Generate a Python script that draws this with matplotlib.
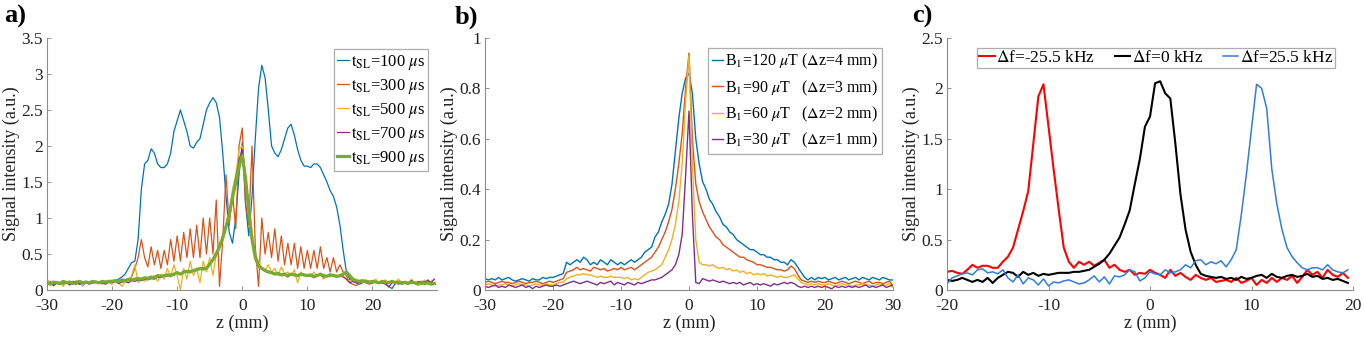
import numpy as np
import matplotlib
matplotlib.use('Agg')
import matplotlib.pyplot as plt
from matplotlib.ticker import FormatStrFormatter

plt.rcParams['font.family'] = ['Liberation Serif', 'DejaVu Serif']
plt.rcParams['mathtext.fontset'] = 'stix'
plt.rcParams['axes.unicode_minus'] = False

# ---------------- panel a: spin-lock duration ----------------
z_a = np.arange(-30, 30, 0.5)
tsl_labels = [r'$\mathrm{t_{SL}}$=100 $\mu$s', r'$\mathrm{t_{SL}}$=300 $\mu$s',
              r'$\mathrm{t_{SL}}$=500 $\mu$s', r'$\mathrm{t_{SL}}$=700 $\mu$s',
              r'$\mathrm{t_{SL}}$=900 $\mu$s']
tsl_100 = [0.08, 0.1, 0.07, 0.1, 0.09, 0.08, 0.11, 0.1, 0.09, 0.08,
           0.1, 0.06, 0.1, 0.09, 0.1, 0.11, 0.1, 0.09, 0.12, 0.11,
           0.12, 0.13, 0.15, 0.18, 0.22, 0.3, 0.38, 0.4, 0.7, 1.4,
           1.75, 1.8, 1.96, 1.9, 1.75, 1.7, 1.7, 1.75, 1.9, 2.2,
           2.35, 2.5, 2.35, 2.2, 2.0, 1.97, 2.05, 2.1, 2.3, 2.5,
           2.6, 2.67, 2.6, 2.4, 1.9, 1.3, 0.8, 0.65, 1.0, 1.6,
           2.05, 1.2, 0.75, 1.3, 2.1, 2.8, 3.12, 2.95, 2.5, 2.0,
           1.9, 1.85, 1.95, 2.1, 2.25, 2.3, 2.15, 1.95, 1.8, 1.72,
           1.72, 1.7, 1.75, 1.75, 1.7, 1.6, 1.5, 1.38, 1.3, 1.15,
           0.9, 0.55, 0.25, 0.15, 0.12, 0.1, 0.08, 0.1, 0.12, 0.1,
           0.1, 0.11, 0.09, 0.1, 0.08, 0.05, 0.02, 0.09, 0.1, 0.08,
           0.1, 0.09, 0.11, 0.1, 0.08, 0.1, 0.12, 0.09, 0.1, 0.08]
tsl_300 = [0.1, 0.12, 0.08, 0.11, 0.1, 0.13, 0.09, 0.1, 0.12, 0.1,
           0.08, 0.11, 0.12, 0.1, 0.09, 0.11, 0.1, 0.12, 0.1, 0.13,
           0.11, 0.12, 0.1, 0.14, 0.12, 0.15, 0.18, 0.3, 0.45, 0.7,
           0.45, 0.32, 0.6, 0.35, 0.55, 0.3, 0.55, 0.35, 0.7, 0.4,
           0.75, 0.4, 0.8, 0.45, 0.85, 0.45, 0.9, 0.45, 1.0, 0.5,
           1.0, 0.5, 1.25, 0.05, 0.7, 1.6, 0.9, 1.35, 0.85, 2.0,
           2.25, 1.2, 0.9, 2.0, 0.6, 0.05, 1.0, 0.5, 0.8, 0.45,
           0.85, 0.4, 0.75, 0.35, 0.65, 0.35, 0.65, 0.3, 0.6, 0.3,
           0.55, 0.3, 0.55, 0.3, 0.6, 0.3, 0.45, 0.25, 0.45, 0.25,
           0.35, 0.25, 0.2, 0.1, 0.08, 0.06, 0.1, 0.12, 0.1, 0.08,
           0.1, 0.12, 0.1, 0.09, 0.11, 0.1, 0.12, 0.1, 0.08, 0.1,
           0.12, 0.1, 0.09, 0.1, 0.11, 0.08, 0.1, 0.12, 0.09, 0.1]
tsl_500 = [0.15, 0.1, 0.08, 0.12, 0.1, 0.05, 0.12, 0.1, 0.08, 0.13,
           0.1, 0.06, 0.12, 0.1, 0.09, 0.12, 0.1, 0.08, 0.12, 0.1,
           0.08, 0.12, 0.1, 0.05, 0.12, 0.1, 0.2, 0.35, 0.1, 0.15,
           0.12, 0.18, 0.15, 0.2, 0.12, 0.22, 0.15, 0.3, 0.18, 0.35,
           0.2, 0.0, 0.3, 0.15, 0.4, 0.2, 0.3, 0.1, 0.4, 0.25,
           0.45, 0.2, 0.5, 0.65, 0.75, 0.9, 1.1, 1.4, 1.6, 1.95,
           2.0, 1.5, 1.2, 0.8, 0.5, 0.4, 0.3, 0.28, 0.35, 0.25,
           0.3, 0.2, 0.32, 0.22, 0.25, 0.2, 0.28, 0.1, 0.25, 0.2,
           0.22, 0.18, 0.25, 0.2, 0.22, 0.15, 0.2, 0.18, 0.22, 0.2,
           0.18, 0.2, 0.15, 0.12, 0.15, 0.12, 0.13, 0.1, 0.14, 0.12,
           0.12, 0.15, 0.1, 0.12, 0.14, 0.1, 0.13, 0.11, 0.15, 0.1,
           0.12, 0.1, 0.15, 0.09, 0.12, 0.1, 0.14, 0.08, 0.12, 0.15]
tsl_700 = [0.08, 0.1, 0.06, 0.1, 0.08, 0.12, 0.1, 0.07, 0.1, 0.12,
           0.08, 0.1, 0.11, 0.08, 0.1, 0.12, 0.09, 0.1, 0.08, 0.11,
           0.1, 0.12, 0.09, 0.11, 0.12, 0.1, 0.13, 0.12, 0.14, 0.13,
           0.15, 0.14, 0.16, 0.15, 0.18, 0.17, 0.2, 0.19, 0.22, 0.2,
           0.25, 0.22, 0.26, 0.24, 0.27, 0.26, 0.3, 0.28, 0.31, 0.3,
           0.37, 0.44, 0.52, 0.62, 0.75, 0.9, 1.08, 1.3, 1.55, 1.8,
           1.95, 1.6, 1.15, 0.72, 0.48, 0.35, 0.3, 0.28, 0.26, 0.25,
           0.23, 0.22, 0.2, 0.21, 0.18, 0.22, 0.2, 0.19, 0.21, 0.2,
           0.19, 0.2, 0.17, 0.2, 0.21, 0.18, 0.2, 0.22, 0.2, 0.18,
           0.2, 0.18, 0.15, 0.1, 0.12, 0.1, 0.11, 0.12, 0.1, 0.11,
           0.1, 0.12, 0.09, 0.11, 0.1, 0.04, 0.1, 0.12, 0.09, 0.1,
           0.11, 0.1, 0.13, 0.1, 0.11, 0.12, 0.1, 0.14, 0.1, 0.15]
tsl_900 = [0.1, 0.08, 0.11, 0.1, 0.09, 0.12, 0.1, 0.11, 0.09, 0.1,
           0.12, 0.1, 0.11, 0.1, 0.12, 0.11, 0.1, 0.12, 0.11, 0.12,
           0.12, 0.13, 0.12, 0.14, 0.13, 0.15, 0.14, 0.15, 0.16, 0.15,
           0.17, 0.16, 0.18, 0.17, 0.2, 0.19, 0.2, 0.21, 0.2, 0.22,
           0.24, 0.22, 0.25, 0.26, 0.25, 0.27, 0.28, 0.3, 0.29, 0.3,
           0.36, 0.42, 0.5, 0.6, 0.72, 0.88, 1.05, 1.28, 1.5, 1.72,
           1.87, 1.55, 1.1, 0.7, 0.45, 0.33, 0.3, 0.27, 0.25, 0.24,
           0.22, 0.23, 0.21, 0.22, 0.2, 0.22, 0.21, 0.2, 0.22, 0.21,
           0.2, 0.21, 0.19, 0.2, 0.22, 0.2, 0.19, 0.21, 0.2, 0.19,
           0.2, 0.22, 0.25, 0.2, 0.15, 0.13, 0.12, 0.13, 0.12, 0.11,
           0.12, 0.11, 0.1, 0.12, 0.11, 0.1, 0.12, 0.1, 0.11, 0.1,
           0.1, 0.09, 0.11, 0.1, 0.08, 0.1, 0.09, 0.1, 0.08, 0.09]

# ---------------- panel b: B1 amplitude ----------------
z_b = np.arange(-30, 30.5, 0.5)
b1_labels = [r'B$_1$=120 $\mu$T ($\Delta$z=4 mm)', r'B$_1$=90 $\mu$T   ($\Delta$z=3 mm)',
             r'B$_1$=60 $\mu$T   ($\Delta$z=2 mm)', r'B$_1$=30 $\mu$T   ($\Delta$z=1 mm)']
b1_120 = [0.045, 0.04, 0.045, 0.04, 0.05, 0.04, 0.045, 0.05, 0.04, 0.035,
          0.04, 0.045, 0.04, 0.035, 0.045, 0.04, 0.04, 0.05, 0.045, 0.05,
          0.05, 0.055, 0.06, 0.065, 0.11, 0.1, 0.11, 0.12, 0.11, 0.13,
          0.12, 0.1, 0.11, 0.1, 0.12, 0.11, 0.1, 0.12, 0.11, 0.1,
          0.11, 0.1, 0.11, 0.12, 0.11, 0.12, 0.13, 0.15, 0.16, 0.17,
          0.21, 0.23, 0.27, 0.3, 0.34, 0.42, 0.55, 0.68, 0.78, 0.84,
          0.86, 0.78, 0.6, 0.5, 0.43, 0.4, 0.36, 0.34, 0.31, 0.29,
          0.26, 0.25, 0.23, 0.22, 0.2, 0.19, 0.18, 0.17, 0.16, 0.16,
          0.15, 0.14, 0.14, 0.13, 0.13, 0.12, 0.12, 0.11, 0.11, 0.1,
          0.12, 0.11, 0.09, 0.07, 0.05, 0.04, 0.05, 0.04, 0.05, 0.045,
          0.05, 0.04, 0.045, 0.05, 0.04, 0.045, 0.05, 0.04, 0.045, 0.05,
          0.04, 0.05, 0.045, 0.04, 0.05, 0.045, 0.04, 0.05, 0.045, 0.04,
          0.04]
b1_90 = [0.03, 0.035, 0.03, 0.025, 0.03, 0.035, 0.03, 0.03, 0.025, 0.03,
         0.035, 0.03, 0.025, 0.03, 0.03, 0.035, 0.03, 0.025, 0.03, 0.035,
         0.03, 0.035, 0.04, 0.045, 0.07, 0.075, 0.08, 0.09, 0.08, 0.085,
         0.08, 0.075, 0.09, 0.085, 0.08, 0.085, 0.075, 0.08, 0.085, 0.08,
         0.09, 0.08, 0.085, 0.09, 0.08, 0.09, 0.1, 0.11, 0.12, 0.13,
         0.15, 0.17, 0.2, 0.23, 0.27, 0.32, 0.4, 0.5, 0.62, 0.8,
         0.94, 0.6, 0.42, 0.35, 0.31, 0.28, 0.25, 0.23, 0.21, 0.2,
         0.18, 0.17, 0.16, 0.15, 0.14, 0.13, 0.13, 0.12, 0.115, 0.11,
         0.1, 0.1, 0.095, 0.09, 0.09, 0.085, 0.08, 0.08, 0.075, 0.08,
         0.095, 0.085, 0.06, 0.04, 0.035, 0.03, 0.035, 0.03, 0.035, 0.03,
         0.03, 0.035, 0.03, 0.025, 0.03, 0.035, 0.03, 0.025, 0.03, 0.035,
         0.03, 0.025, 0.03, 0.035, 0.025, 0.03, 0.03, 0.025, 0.03, 0.035,
         0.015]
b1_60 = [0.02, 0.025, 0.02, 0.015, 0.02, 0.02, 0.025, 0.02, 0.015, 0.02,
         0.025, 0.02, 0.02, 0.015, 0.02, 0.025, 0.02, 0.02, 0.025, 0.02,
         0.02, 0.025, 0.03, 0.03, 0.045, 0.05, 0.055, 0.06, 0.06, 0.065,
         0.06, 0.06, 0.055, 0.05, 0.055, 0.05, 0.05, 0.055, 0.05, 0.05,
         0.05, 0.045, 0.05, 0.04, 0.045, 0.04, 0.05, 0.06, 0.07, 0.075,
         0.08, 0.09, 0.1, 0.13, 0.16, 0.2, 0.26, 0.35, 0.5, 0.75,
         0.93, 0.5, 0.2, 0.11, 0.1, 0.1, 0.095, 0.1, 0.09, 0.085,
         0.09, 0.08, 0.085, 0.075, 0.08, 0.07, 0.075, 0.065, 0.07, 0.06,
         0.065, 0.06, 0.065, 0.055, 0.06, 0.055, 0.05, 0.055, 0.05, 0.05,
         0.055, 0.06, 0.045, 0.03, 0.025, 0.02, 0.025, 0.02, 0.025, 0.02,
         0.02, 0.025, 0.02, 0.015, 0.02, 0.025, 0.02, 0.02, 0.015, 0.02,
         0.02, 0.025, 0.02, 0.02, 0.015, 0.02, 0.025, 0.02, 0.02, 0.025,
         0.01]
b1_30 = [0.015, 0.01, 0.015, 0.02, 0.01, 0.015, 0.01, 0.02, 0.015, 0.01,
         0.015, 0.02, 0.01, 0.015, 0.005, 0.015, 0.01, 0.015, 0.02, 0.015,
         0.015, 0.02, 0.015, 0.02, 0.025, 0.03, 0.035, 0.03, 0.025, 0.03,
         0.035, 0.03, 0.025, 0.02, 0.03, 0.025, 0.03, 0.035, 0.02, 0.03,
         0.025, 0.02, 0.03, 0.025, 0.02, 0.03, 0.025, 0.03, 0.035, 0.04,
         0.04, 0.045, 0.05, 0.06, 0.07, 0.08, 0.1, 0.14, 0.22, 0.45,
         0.71, 0.3, 0.03, 0.025, 0.045, 0.04, 0.035, 0.04, 0.035, 0.03,
         0.035, 0.03, 0.025, 0.03, 0.025, 0.03, 0.02, 0.025, 0.03, 0.02,
         0.025, 0.02, 0.025, 0.02, 0.015, 0.025, 0.02, 0.025, 0.03, 0.025,
         0.03, 0.025, 0.015, 0.01, 0.015, 0.01, 0.015, 0.01, 0.015, 0.01,
         0.015, 0.01, 0.005, 0.015, 0.01, 0.015, 0.01, 0.015, 0.01, 0.015,
         0.01, 0.015, 0.02, 0.01, 0.015, 0.01, 0.015, 0.02, 0.01, 0.015,
         0.02]

# ---------------- panel c: frequency offset ----------------
z_c = np.arange(-20, 20, 0.5)
df_labels = [r'$\Delta$f=-25.5 kHz', r'$\Delta$f=0 kHz', r'$\Delta$f=25.5 kHz']
df_neg = [0.18, 0.19, 0.17, 0.16, 0.2, 0.25, 0.22, 0.24, 0.24, 0.22,
          0.22, 0.28, 0.33, 0.42, 0.6, 0.78, 0.98, 1.45, 1.92, 2.04,
          1.62, 1.2, 0.8, 0.42, 0.28, 0.22, 0.28, 0.25, 0.28, 0.24,
          0.27, 0.3, 0.22, 0.25, 0.2, 0.18, 0.2, 0.15, 0.17, 0.16,
          0.2, 0.17, 0.15, 0.12, 0.2, 0.14, 0.17, 0.13, 0.1, 0.15,
          0.12, 0.1, 0.12, 0.08, 0.09, 0.1, 0.08, 0.12, 0.07, 0.09,
          0.12, 0.05, 0.1, 0.07, 0.12, 0.08, 0.12, 0.1, 0.14, 0.07,
          0.13, 0.2, 0.15, 0.18, 0.12, 0.2, 0.15, 0.13, 0.17, 0.12]
df_zero = [0.1, 0.09, 0.1, 0.12, 0.1, 0.08, 0.1, 0.08, 0.12, 0.07,
           0.12, 0.15, 0.18, 0.17, 0.13, 0.18, 0.15, 0.17, 0.14, 0.16,
           0.15, 0.16, 0.17, 0.17, 0.17, 0.18, 0.18, 0.19, 0.2, 0.23,
           0.26, 0.3, 0.36, 0.44, 0.52, 0.65, 0.79, 1.05, 1.3, 1.62,
           1.72, 2.05, 2.07, 1.95, 1.9, 1.45, 0.95, 0.6, 0.38, 0.25,
           0.16, 0.14, 0.13, 0.12, 0.13, 0.11, 0.12, 0.1, 0.13, 0.11,
           0.12, 0.14, 0.15, 0.12, 0.16, 0.13, 0.12, 0.14, 0.15, 0.13,
           0.14, 0.16, 0.13, 0.14, 0.11, 0.12, 0.1, 0.11, 0.09, 0.07]
df_pos = [0.06, 0.12, 0.14, 0.16, 0.17, 0.15, 0.2, 0.21, 0.17, 0.18,
          0.16, 0.2, 0.12, 0.08, 0.15, 0.06, 0.12, 0.1, 0.05, 0.11,
          0.04, 0.08, 0.07, 0.09, 0.1, 0.08, 0.06, 0.07, 0.1, 0.14,
          0.08, 0.13, 0.06, 0.14, 0.13, 0.15, 0.2, 0.18, 0.09, 0.12,
          0.18, 0.16, 0.15, 0.2, 0.17, 0.18, 0.2, 0.25, 0.22, 0.29,
          0.3, 0.25, 0.28, 0.26, 0.29, 0.23, 0.3, 0.4, 0.75, 1.15,
          1.6, 2.04, 2.0, 1.8, 1.2, 0.85, 0.6, 0.42, 0.33, 0.27,
          0.22, 0.2, 0.22, 0.22, 0.2, 0.25, 0.2, 0.18, 0.17, 0.2]

matlab_cols = ['#0072BD', '#D95319', '#EDB120', '#7E2F8E', '#77AC30']

fig = plt.figure(figsize=(13.65, 3.37), dpi=100)
ax_a = fig.add_axes([0.0344, 0.1395, 0.2857, 0.748])
ax_b = fig.add_axes([0.3553, 0.1395, 0.2989, 0.748])
ax_c = fig.add_axes([0.6938, 0.1395, 0.2974, 0.748])


def style_axes(ax):
    for s in ['top', 'right']:
        ax.spines[s].set_visible(False)
    for s in ['left', 'bottom']:
        ax.spines[s].set_color('0.55')
        ax.spines[s].set_linewidth(0.8)
    ax.tick_params(direction='in', length=3, width=0.6, color='0.5',
                   labelsize=12.5, labelcolor='#222222')
    ax.tick_params(axis='x', pad=6)
    ax.tick_params(axis='y', pad=3)
    ax.yaxis.set_major_formatter(FormatStrFormatter('%g'))
    ax.set_xlabel('z (mm)', fontsize=13, labelpad=0, color='#222222')
    ax.set_ylabel('Signal intensity (a.u.)', fontsize=13, labelpad=1, color='#222222')


def style_legend(leg):
    fr = leg.get_frame()
    fr.set_edgecolor('0.6')
    fr.set_linewidth(0.9)
    fr.set_boxstyle('square', pad=0)


# panel a
series_a = [tsl_100, tsl_300, tsl_500, tsl_700, tsl_900]
for i, y in enumerate(series_a):
    lw = 2.3 if i == 4 else 0.9
    ax_a.plot(z_a, y, color=matlab_cols[i], lw=lw, label=tsl_labels[i])
ax_a.set_xlim(-30, 29.9)
ax_a.set_ylim(0, 3.5)
ax_a.set_xticks([-30, -20, -10, 0, 10, 20])
ax_a.set_yticks(np.arange(0, 3.6, 0.5))
style_axes(ax_a)
leg = ax_a.legend(loc='upper right', bbox_to_anchor=(0.978, 0.955), fontsize=12,
                  handlelength=0.7, handletextpad=0.1, borderpad=0.2,
                  labelspacing=0.3, borderaxespad=0, fancybox=False)
style_legend(leg)

# panel b
series_b = [b1_120, b1_90, b1_60, b1_30]
for i, y in enumerate(series_b):
    ax_b.plot(z_b, y, color=matlab_cols[i], lw=1.0, label=b1_labels[i])
ax_b.set_xlim(-30, 30)
ax_b.set_ylim(0, 1)
ax_b.set_xticks([-30, -20, -10, 0, 10, 20, 30])
ax_b.set_yticks([0, 0.2, 0.4, 0.6, 0.8, 1])
style_axes(ax_b)
leg = ax_b.legend(loc='upper right', bbox_to_anchor=(0.972, 0.96), fontsize=11.5,
                  handlelength=0.7, handletextpad=0.1, borderpad=0.25,
                  labelspacing=0.45, borderaxespad=0, fancybox=False)
style_legend(leg)

# panel c
ax_c.plot(z_c, df_neg, color='#ff0000', lw=1.5, label=df_labels[0])
ax_c.plot(z_c, df_zero, color='black', lw=1.5, label=df_labels[1])
ax_c.plot(z_c, df_pos, color='#2f7de1', lw=1.1, label=df_labels[2])
ax_c.set_xlim(-20, 20)
ax_c.set_ylim(0, 2.5)
ax_c.set_xticks([-20, -10, 0, 10, 20])
ax_c.set_yticks(np.arange(0, 2.6, 0.5))
style_axes(ax_c)
leg = ax_c.legend(loc='upper center', bbox_to_anchor=(0.515, 0.96), ncol=3, fontsize=12.5,
                  handlelength=0.9, handletextpad=0.1, borderpad=0.1,
                  columnspacing=1.1, borderaxespad=0, fancybox=False)
style_legend(leg)

# panel letters
for xf, lab in [(0.003, 'a)'), (0.333, 'b)'), (0.668, 'c)')]:
    fig.text(xf, 0.95, lab, fontsize=19, fontweight='bold', va='center', ha='left')

fig.savefig('out.png', dpi=100)
